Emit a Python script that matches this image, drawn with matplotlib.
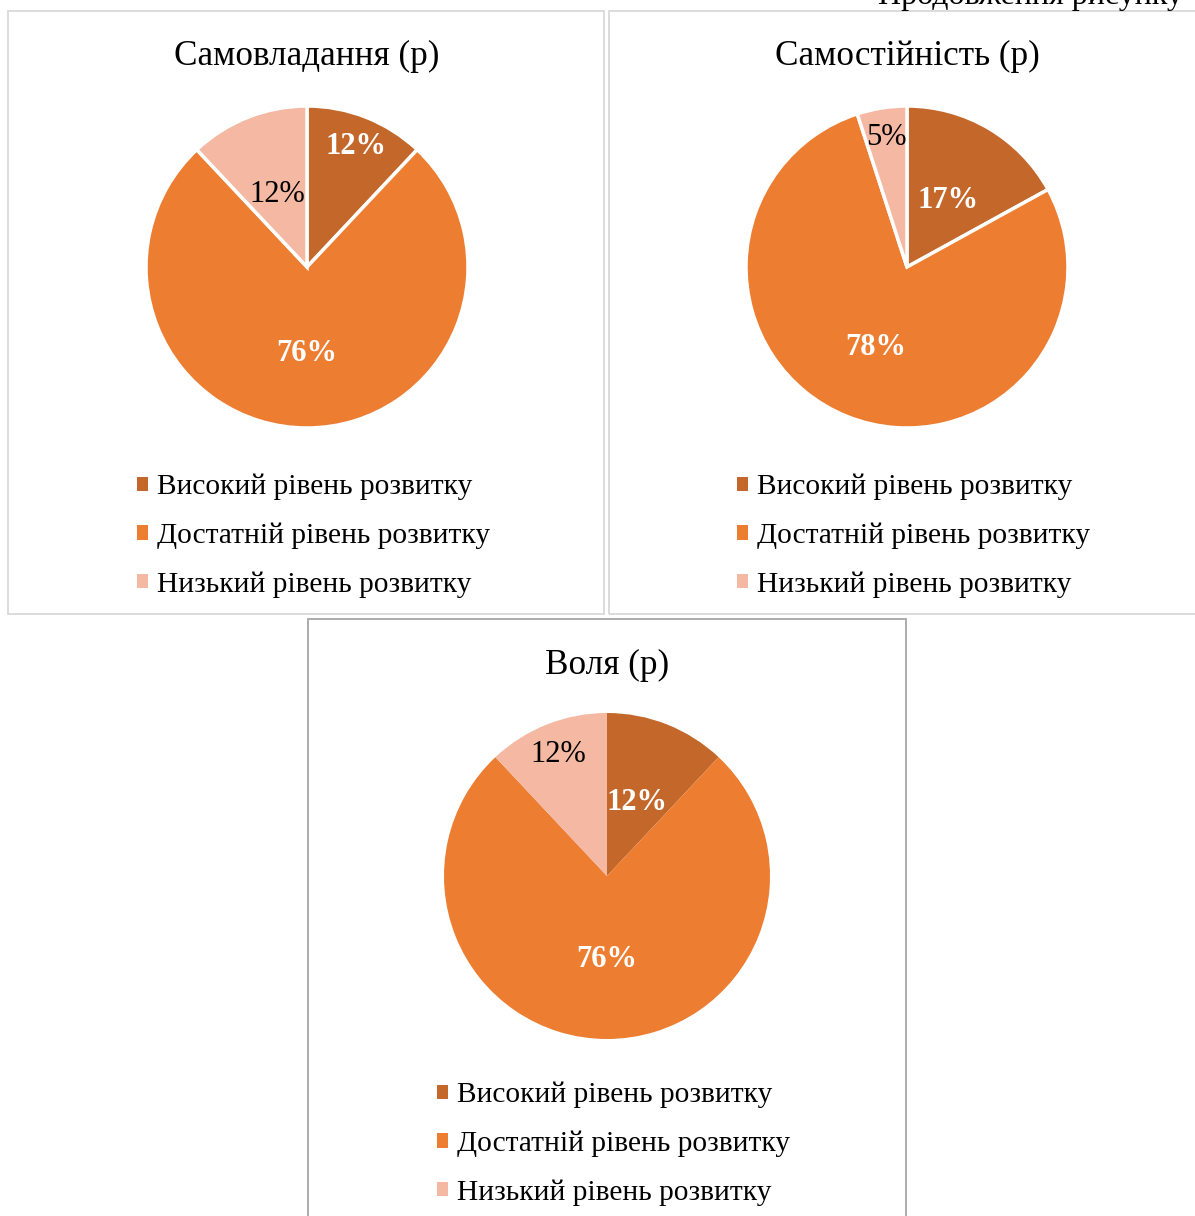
import matplotlib.pyplot as plt
import numpy as np
from matplotlib.patches import Patch, Rectangle

plt.rcParams['font.family'] = ['Liberation Serif', 'DejaVu Serif']

# data
levels = ['Високий рівень розвитку', 'Достатній рівень розвитку', 'Низький рівень розвитку']
colors = ['#C4672A', '#ED7D31', '#F4B8A3']
titles = ['Самовладання (р)', 'Самостійність (р)', 'Воля (р)']
self_control = [12, 76, 12]
independence = [17, 78, 5]
will = [12, 76, 12]

W, H = 1195, 1216
fig = plt.figure(figsize=(W / 100, H / 100), dpi=100)


def box(x, y, w, h):
    # pixel box (top-left origin) -> figure fraction rect
    return [x / W, 1 - (y + h) / H, w / W, h / H]


# panel frames
fig.patches.append(Rectangle((8 / W, 1 - 614 / H), 596 / W, 603 / H, transform=fig.transFigure,
                             fill=False, edgecolor='#d9d9d9', linewidth=1.3))
fig.patches.append(Rectangle((609 / W, 1 - 614 / H), 600 / W, 603 / H, transform=fig.transFigure,
                             fill=False, edgecolor='#d9d9d9', linewidth=1.3))
fig.patches.append(Rectangle((308 / W, 1 - 1230 / H), 598 / W, 611 / H, transform=fig.transFigure,
                             fill=False, edgecolor='#a6a6a6', linewidth=1.3))

fig.text(1183 / W, 1 - 4 / H, 'Продовження рисунку', ha='right', va='baseline', fontsize=23)


def draw_pie(values, title, cx, cy, r, dists, edge, legend_x, legend_y):
    ax = fig.add_axes(box(cx - r, cy - r, 2 * r, 2 * r))
    wedges, _ = ax.pie(values, colors=colors, startangle=90, counterclock=False,
                       wedgeprops=dict(edgecolor='white' if edge else 'none', linewidth=2.5 if edge else 0))
    ax.set_xlim(-1, 1)
    ax.set_ylim(-1, 1)
    ax.axis('off')
    for w, v, d, i in zip(wedges, values, dists, range(3)):
        ang = np.deg2rad((w.theta1 + w.theta2) / 2)
        x, y = d * np.cos(ang), d * np.sin(ang) - 0.015
        if i < 2:
            ax.text(x, y, f'{v}%', ha='center', va='center',
                    fontsize=22, color='white', fontweight='bold')
        else:
            ax.text(x, y, f'{v}%', ha='center', va='center',
                    fontsize=22, color='black')
    fig.text(cx / W, 1 - (cy - 211) / H, title, ha='center', va='center', fontsize=25.3)
    handles = [Patch(facecolor=c, edgecolor='none') for c in colors]
    fig.legend(handles, levels, loc='upper left', bbox_to_anchor=(legend_x / W, 1 - legend_y / H),
               frameon=False, fontsize=21.2, handlelength=0.38, handleheight=0.38,
               handletextpad=0.3, labelspacing=0.75, borderpad=0, borderaxespad=0)


draw_pie(self_control, titles[0], 307, 267, 161, [0.82, 0.52, 0.50], True, 137, 474)
draw_pie(independence, titles[1], 907, 267, 161, [0.50, 0.52, 0.83], True, 737, 474)
draw_pie(will, titles[2], 607, 876, 163, [0.50, 0.50, 0.82], False, 437, 1082)

fig.savefig('out.png', dpi=100)
